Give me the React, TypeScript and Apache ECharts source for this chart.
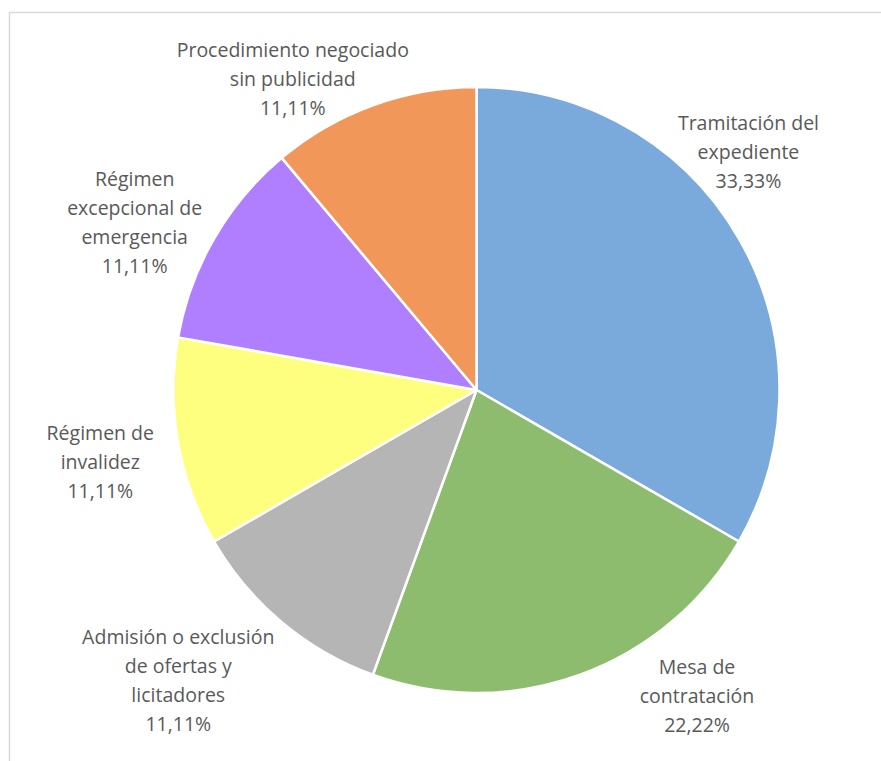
import React, { useEffect, useRef } from "react";
import * as echarts from "echarts";

const categories = [
  "Tramitación del\nexpediente",
  "Mesa de\ncontratación",
  "Admisión o exclusión\nde ofertas y\nlicitadores",
  "Régimen de\ninvalidez",
  "Régimen\nexcepcional de\nemergencia",
  "Procedimiento negociado\nsin publicidad",
];
const values = [33.33, 22.22, 11.11, 11.11, 11.11, 11.11];
const colors = ["#7AAADC", "#8EBC6E", "#B5B5B5", "#FFFF7F", "#AF7FFF", "#F1975A"];

// label placement (polar, relative to pie centre): angle in degrees, distance in px
const labelAngles = [41.3, -54.2, -135.8, -169.2, 153.8, 120.5];
const labelDistances = [362, 377, 416, 383, 381, 362];

const CX = 476.5;
const CY = 390;
const R = 303;

export default function App() {
  const ref = useRef<HTMLDivElement>(null);
  useEffect(() => {
    const chart = echarts.init(ref.current!, null, { renderer: "svg" });
    chart.setOption({
      animation: false,
      backgroundColor: "#ffffff",
      graphic: [
        {
          type: "rect",
          shape: { x: 9.5, y: 12.5, width: 1000, height: 1000 },
          style: { fill: "none", stroke: "#D9D9D9", lineWidth: 1.5 },
          silent: true,
        },
      ],
      series: [
        {
          type: "pie",
          center: [CX, CY],
          radius: [0, R],
          startAngle: 90,
          clockwise: true,
          avoidLabelOverlap: false,
          itemStyle: { borderColor: "#ffffff", borderWidth: 2.5 },
          label: {
            show: true,
            position: "outside",
            formatter: (p: any) =>
              p.name + "\n" + values[p.dataIndex].toFixed(2).replace(".", ",") + "%",
            color: "#595959",
            fontFamily: "Open Sans",
            fontSize: 19.5,
            lineHeight: 29,
            align: "center",
          },
          labelLine: { show: false },
          labelLayout: (params: any) => {
            const i = params.dataIndex;
            const a = (labelAngles[i] * Math.PI) / 180;
            return {
              x: CX + labelDistances[i] * Math.cos(a),
              y: CY - labelDistances[i] * Math.sin(a),
              align: "center",
              verticalAlign: "middle",
            };
          },
          data: categories.map((name, i) => ({
            name,
            value: values[i],
            itemStyle: { color: colors[i] },
          })),
        },
      ],
    });
    return () => chart.dispose();
  }, []);
  return (
    <div
      ref={ref}
      style={{ position: "absolute", left: 0, top: 0, width: 881, height: 761 }}
    />
  );
}
